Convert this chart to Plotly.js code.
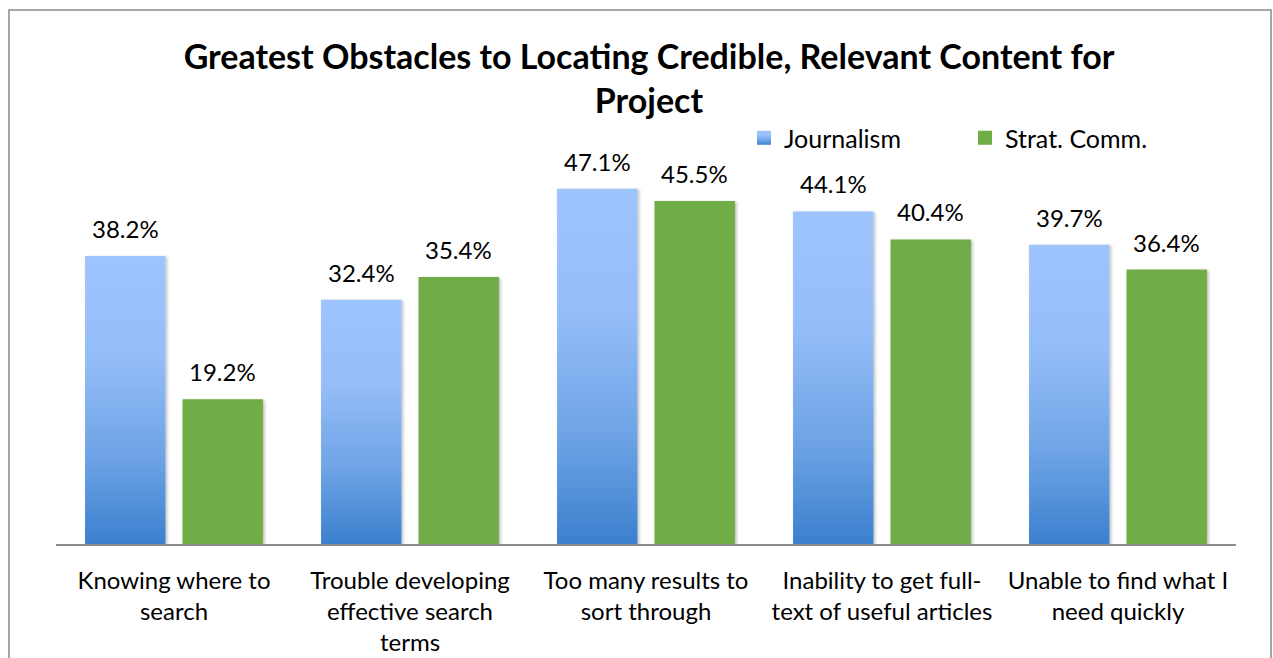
<!DOCTYPE html>
<html>
<head>
<meta charset="utf-8">
<script src="https://cdn.plot.ly/plotly-3.0.1.min.js"></script>
<style>
  html, body { margin: 0; padding: 0; background: #fff; overflow: hidden; }
  #chart { width: 1273px; height: 658px; }
</style>
</head>
<body>
<div id="chart"></div>
<script>
// ---- data ----
const categories = [
  "Knowing where to search",
  "Trouble developing effective search terms",
  "Too many results to sort through",
  "Inability to get full-text of useful articles",
  "Unable to find what I need quickly"
];
const tickLabels = [
  "Knowing where to<br>search",
  "Trouble developing<br>effective search<br>terms",
  "Too many results to<br>sort through",
  "Inability to get full-<br>text of useful articles",
  "Unable to find what I<br>need quickly"
];
const journalism = [38.2, 32.4, 47.1, 44.1, 39.7];
const stratComm = [19.2, 35.4, 45.5, 40.4, 36.4];
const seriesNames = ["Journalism", "Strat. Comm."];
const chartTitle = "Greatest Obstacles to Locating Credible, Relevant Content for<br>Project";

// ---- styling ----
const FONT = "Lato, Calibri, 'Open Sans', sans-serif";
const W = 1273, H = 658;
const plotL = 56, plotR = 1236, plotB = 544, plotT = 167;
const plotW = plotR - plotL, plotH = plotB - plotT;
const barOffset = 48.5;

const traces = [
  {
    type: "bar", name: seriesNames[0], x: categories, y: journalism,
    marker: { color: "#7FAEEB" }, hoverinfo: "y"
  },
  {
    type: "bar", name: seriesNames[1], x: categories, y: stratComm,
    marker: { color: "#70AD47" }, hoverinfo: "y"
  }
];

const annotations = [];
[journalism, stratComm].forEach((vals, si) => {
  vals.forEach((v, i) => {
    annotations.push({
      x: categories[i], y: v, xref: "x", yref: "y",
      text: v.toFixed(1) + "%",
      showarrow: false, xanchor: "center", yanchor: "bottom",
      xshift: si === 0 ? -barOffset : barOffset, yshift: 11,
      font: { family: FONT, size: 24, color: "#000" }
    });
  });
});

const layout = {
  width: W, height: H,
  margin: { l: plotL, r: W - plotR, t: plotT, b: H - plotB, pad: 0, autoexpand: false },
  paper_bgcolor: "#fff", plot_bgcolor: "#fff",
  font: { family: FONT, color: "#000" },
  title: {
    text: chartTitle,
    x: 649 / W, xanchor: "center", xref: "container",
    y: 1 - 69 / H, yanchor: "top", yref: "container",
    font: { family: FONT, size: 34, color: "#000", weight: "bold" }
  },
  barmode: "group",
  bargap: 0.174,
  bargroupgap: 0.175,
  xaxis: {
    tickvals: categories, ticktext: tickLabels,
    showline: true, linecolor: "#8c8c8c", linewidth: 2,
    ticks: "", showgrid: false, zeroline: false,
    tickfont: { family: FONT, size: 24, color: "#000" },
    ticklabelstandoff: 14, fixedrange: true
  },
  yaxis: {
    range: [0, 50], visible: false, showgrid: false, zeroline: false, fixedrange: true
  },
  showlegend: true,
  legend: {
    orientation: "h",
    x: (744 - plotL) / plotW, xanchor: "left",
    y: (plotB - 138) / plotH, yanchor: "middle",
    font: { family: FONT, size: 25, color: "#000" },
    entrywidth: 176, entrywidthmode: "pixels",
    itemwidth: 30, bgcolor: "rgba(0,0,0,0)", borderwidth: 0
  },
  annotations: annotations,
  shapes: [{
    type: "rect", xref: "paper", yref: "paper",
    x0: (9 - plotL) / plotW, x1: (1271 - plotL) / plotW,
    y0: -0.4, y1: (plotB - 10) / plotH,
    line: { color: "#8a8a8a", width: 1.5 }, fillcolor: "rgba(0,0,0,0)", layer: "below"
  }]
};

Plotly.newPlot("chart", traces, layout, { displayModeBar: false, staticPlot: true }).then(gd => {
  const ns = "http://www.w3.org/2000/svg";
  const svg = gd.querySelector("svg.main-svg");
  let defs = svg.querySelector("defs");
  if (!defs) { defs = document.createElementNS(ns, "defs"); svg.insertBefore(defs, svg.firstChild); }
  const grad = document.createElementNS(ns, "linearGradient");
  grad.setAttribute("id", "jgrad");
  grad.setAttribute("x1", "0"); grad.setAttribute("y1", "0");
  grad.setAttribute("x2", "0"); grad.setAttribute("y2", "1");
  [[0, "#9EC4FD"], [0.35, "#95BDF8"], [0.7, "#6DA3E5"], [1, "#3B80CE"]].forEach(([o, c]) => {
    const s = document.createElementNS(ns, "stop");
    s.setAttribute("offset", o); s.setAttribute("stop-color", c);
    grad.appendChild(s);
  });
  defs.appendChild(grad);
  const filt = document.createElementNS(ns, "filter");
  filt.setAttribute("id", "barshadow");
  filt.setAttribute("x", "-20%"); filt.setAttribute("y", "-5%");
  filt.setAttribute("width", "140%"); filt.setAttribute("height", "110%");
  const ds = document.createElementNS(ns, "feDropShadow");
  ds.setAttribute("dx", "1.5"); ds.setAttribute("dy", "1");
  ds.setAttribute("stdDeviation", "1.6"); ds.setAttribute("flood-opacity", "0.28");
  filt.appendChild(ds);
  defs.appendChild(filt);
  const barTraces = gd.querySelectorAll(".barlayer .trace");
  barTraces.forEach((t, ti) => {
    t.querySelectorAll("path").forEach(p => {
      if (ti === 0) p.style.fill = "url(#jgrad)";
      p.setAttribute("filter", "url(#barshadow)");
    });
  });
  const legTraces = gd.querySelectorAll(".legend .traces");
  legTraces.forEach((t, ti) => {
    t.querySelectorAll(".legendpoints path").forEach(p => {
      if (ti === 0) p.style.fill = "url(#jgrad)";
      const tr = p.getAttribute("transform") || "";
      p.setAttribute("transform", tr + " scale(1.17)");
    });
  });
});
</script>
</body>
</html>
